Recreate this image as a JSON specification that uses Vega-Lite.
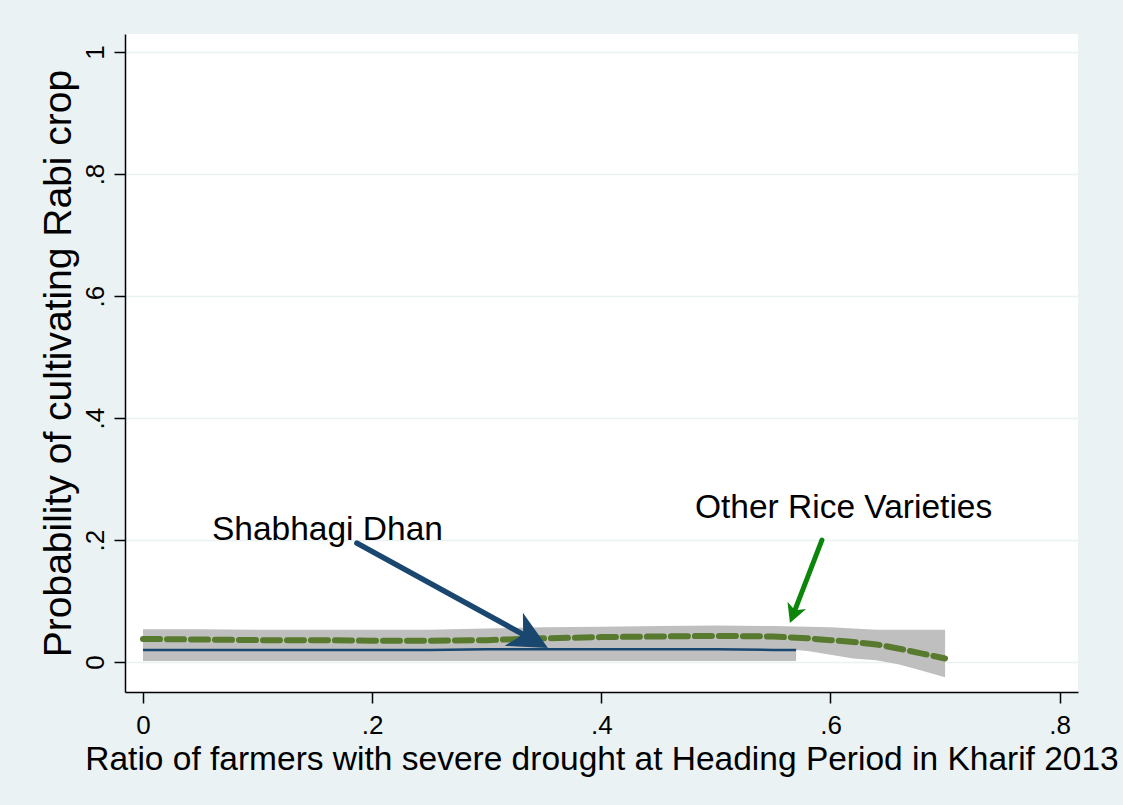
{
  "$schema": "https://vega.github.io/schema/vega-lite/v6.json",
  "width": 953,
  "height": 658,
  "autosize": {"type": "none"},
  "padding": {"left": 125, "top": 34, "right": 45, "bottom": 113},
  "background": "#EAF2F3",
  "config": {
    "view": {"stroke": null, "fill": "#FFFFFF"},
    "font": "Liberation Sans",
    "axis": {
      "labelFont": "Liberation Sans",
      "titleFont": "Liberation Sans",
      "labelColor": "#000000",
      "titleColor": "#000000",
      "titleFontWeight": "normal",
      "domainColor": "#000000",
      "tickColor": "#000000",
      "domainWidth": 1.5,
      "tickWidth": 1.5,
      "tickSize": 11
    }
  },
  "datasets": {
    "curves": [
      {"series": "other", "x": 0, "y": 0.038, "lo": 0.021, "hi": 0.054},
      {"series": "other", "x": 0.05, "y": 0.037, "lo": 0.020, "hi": 0.054},
      {"series": "other", "x": 0.1, "y": 0.036, "lo": 0.019, "hi": 0.053},
      {"series": "other", "x": 0.15, "y": 0.036, "lo": 0.019, "hi": 0.053},
      {"series": "other", "x": 0.2, "y": 0.035, "lo": 0.018, "hi": 0.053},
      {"series": "other", "x": 0.25, "y": 0.035, "lo": 0.018, "hi": 0.053},
      {"series": "other", "x": 0.3, "y": 0.036, "lo": 0.019, "hi": 0.055},
      {"series": "other", "x": 0.35, "y": 0.039, "lo": 0.021, "hi": 0.057},
      {"series": "other", "x": 0.4, "y": 0.041, "lo": 0.023, "hi": 0.058},
      {"series": "other", "x": 0.45, "y": 0.042, "lo": 0.024, "hi": 0.059},
      {"series": "other", "x": 0.5, "y": 0.043, "lo": 0.025, "hi": 0.060},
      {"series": "other", "x": 0.55, "y": 0.042, "lo": 0.023, "hi": 0.059},
      {"series": "other", "x": 0.58, "y": 0.039, "lo": 0.018, "hi": 0.058},
      {"series": "other", "x": 0.6, "y": 0.036, "lo": 0.012, "hi": 0.057},
      {"series": "other", "x": 0.62, "y": 0.033, "lo": 0.006, "hi": 0.055},
      {"series": "other", "x": 0.64, "y": 0.029, "lo": 0.003, "hi": 0.053},
      {"series": "other", "x": 0.66, "y": 0.022, "lo": -0.004, "hi": 0.053},
      {"series": "other", "x": 0.68, "y": 0.014, "lo": -0.014, "hi": 0.053},
      {"series": "other", "x": 0.7, "y": 0.006, "lo": -0.025, "hi": 0.053},
      {"series": "shab", "x": 0, "y": 0.020, "lo": 0.002, "hi": 0.038},
      {"series": "shab", "x": 0.05, "y": 0.020, "lo": 0.002, "hi": 0.038},
      {"series": "shab", "x": 0.1, "y": 0.020, "lo": 0.002, "hi": 0.038},
      {"series": "shab", "x": 0.15, "y": 0.020, "lo": 0.002, "hi": 0.038},
      {"series": "shab", "x": 0.2, "y": 0.020, "lo": 0.002, "hi": 0.038},
      {"series": "shab", "x": 0.25, "y": 0.020, "lo": 0.002, "hi": 0.038},
      {"series": "shab", "x": 0.3, "y": 0.021, "lo": 0.002, "hi": 0.039},
      {"series": "shab", "x": 0.35, "y": 0.021, "lo": 0.002, "hi": 0.039},
      {"series": "shab", "x": 0.4, "y": 0.021, "lo": 0.002, "hi": 0.039},
      {"series": "shab", "x": 0.45, "y": 0.021, "lo": 0.002, "hi": 0.039},
      {"series": "shab", "x": 0.5, "y": 0.021, "lo": 0.002, "hi": 0.039},
      {"series": "shab", "x": 0.55, "y": 0.020, "lo": 0.002, "hi": 0.039},
      {"series": "shab", "x": 0.57, "y": 0.020, "lo": 0.002, "hi": 0.039}
    ],
    "shafts": [
      {"series": "shab", "x": 0.1867, "y": 0.195, "x2": 0.342, "y2": 0.0348},
      {"series": "other", "x": 0.5925, "y": 0.2, "x2": 0.5671, "y2": 0.0762}
    ],
    "heads": [
      {"series": "shab", "x": 0.3385, "y": 0.0384},
      {"series": "other", "x": 0.5676, "y": 0.0785}
    ],
    "labels": [
      {"series": "shab", "x": 0.0602, "y": 0.2, "text": "Shabhagi Dhan"},
      {"series": "other", "x": 0.4817, "y": 0.236, "text": "Other Rice Varieties"}
    ]
  },
  "encoding": {
    "x": {
      "field": "x", "type": "quantitative",
      "scale": {"domain": [-0.0157, 0.816], "nice": false, "zero": false},
      "axis": {
        "values": [0, 0.2, 0.4, 0.6, 0.8],
        "grid": false,
        "labelFontSize": 26,
        "labelPadding": 9,
        "labelExpr": "datum.value == 0 ? '0' : substring(format(datum.value, '.1f'), 1)",
        "title": "Ratio of farmers with severe drought at Heading Period in Kharif 2013",
        "titleFontSize": 33.5,
        "titlePadding": 5
      }
    },
    "y": {
      "field": "y", "type": "quantitative",
      "scale": {"domain": [-0.049, 1.0295], "nice": false, "zero": false},
      "axis": {
        "values": [0, 0.2, 0.4, 0.6, 0.8, 1],
        "grid": true,
        "gridColor": "#EAF2F3",
        "gridWidth": 1.5,
        "labelAngle": -90,
        "labelAlign": "center",
        "labelBaseline": "bottom",
        "labelFontSize": 26,
        "labelPadding": 6,
        "labelExpr": "datum.value == 0 ? '0' : datum.value == 1 ? '1' : substring(format(datum.value, '.1f'), 1)",
        "title": "Probability of cultivating Rabi crop",
        "titleFontSize": 39,
        "titlePadding": 4
      }
    }
  },
  "layer": [
    {
      "data": {"name": "curves"},
      "mark": {"type": "area", "color": "#BFBFBF", "opacity": 1},
      "encoding": {
        "detail": {"field": "series"},
        "y": {"field": "lo", "type": "quantitative"},
        "y2": {"field": "hi"}
      }
    },
    {
      "data": {"name": "curves"},
      "transform": [{"filter": "datum.series == 'shab'"}],
      "mark": {"type": "line", "color": "#1A476F", "strokeWidth": 2.5}
    },
    {
      "data": {"name": "curves"},
      "transform": [{"filter": "datum.series == 'other'"}],
      "mark": {"type": "line", "color": "#587A2E", "strokeWidth": 6, "strokeDash": [17, 7], "strokeCap": "round"}
    },
    {
      "data": {"name": "shafts"},
      "transform": [{"filter": "datum.series == 'shab'"}],
      "mark": {"type": "rule", "color": "#1A476F", "strokeWidth": 5.5, "strokeCap": "round"},
      "encoding": {
        "x2": {"field": "x2"},
        "y2": {"field": "y2"}
      }
    },
    {
      "data": {"name": "shafts"},
      "transform": [{"filter": "datum.series == 'other'"}],
      "mark": {"type": "rule", "color": "#0B860B", "strokeWidth": 5, "strokeCap": "round"},
      "encoding": {
        "x2": {"field": "x2"},
        "y2": {"field": "y2"}
      }
    },
    {
      "data": {"name": "heads"},
      "transform": [{"filter": "datum.series == 'shab'"}],
      "mark": {"type": "point", "shape": "M 1 0 L -1 -0.97 L -0.45 0 L -1 0.97 Z", "size": 1521, "angle": 28.8, "filled": true, "color": "#1A476F", "opacity": 1}
    },
    {
      "data": {"name": "heads"},
      "transform": [{"filter": "datum.series == 'other'"}],
      "mark": {"type": "point", "shape": "M 1 0 L -1 -1.05 L -0.45 0 L -1 1.05 Z", "size": 361, "angle": 111.2, "filled": true, "color": "#0B860B", "opacity": 1}
    },
    {
      "data": {"name": "labels"},
      "mark": {"type": "text", "align": "left", "baseline": "alphabetic", "fontSize": 33.5, "font": "Liberation Sans", "color": "#000000"},
      "encoding": {
        "text": {"field": "text"}
      }
    }
  ]
}
